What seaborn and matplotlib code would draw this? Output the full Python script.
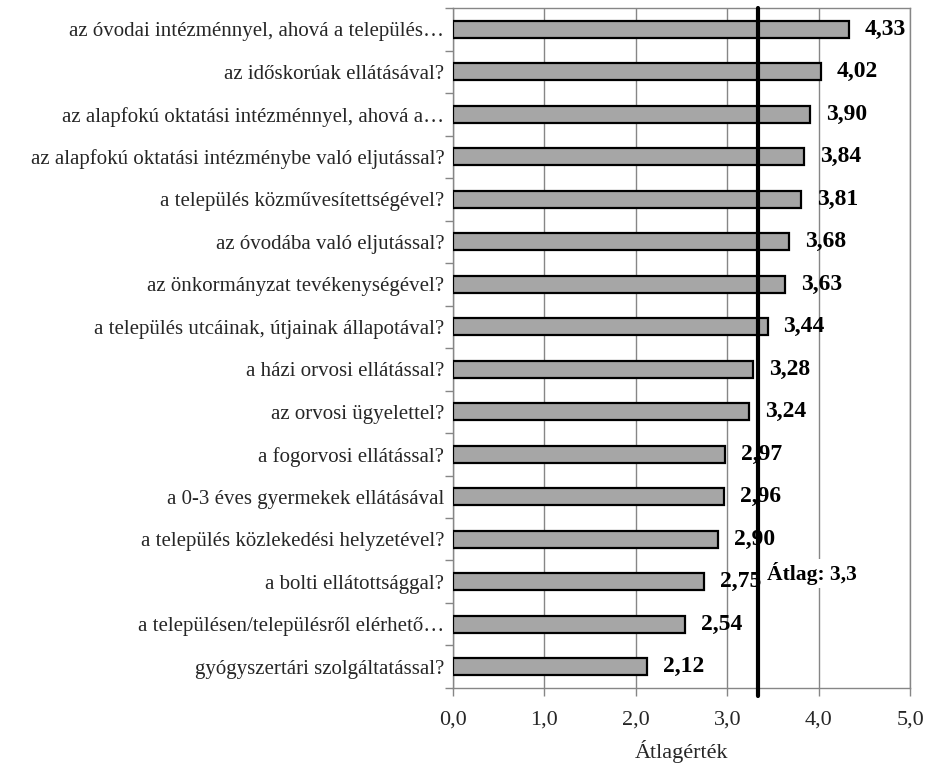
import matplotlib.pyplot as plt
import numpy as np
import pandas as pd
import seaborn as sns
from matplotlib.ticker import FixedLocator

categories = [
    "az óvodai intézménnyel, ahová a település…",
    "az időskorúak ellátásával?",
    "az alapfokú oktatási intézménnyel, ahová a…",
    "az alapfokú oktatási intézménybe való eljutással?",
    "a település közművesítettségével?",
    "az óvodába való eljutással?",
    "az önkormányzat tevékenységével?",
    "a település utcáinak, útjainak állapotával?",
    "a házi orvosi ellátással?",
    "az orvosi ügyelettel?",
    "a fogorvosi ellátással?",
    "a 0-3 éves gyermekek ellátásával",
    "a település közlekedési helyzetével?",
    "a bolti ellátottsággal?",
    "a településen/településről elérhető…",
    "gyógyszertári szolgáltatással?",
]
values = [4.33, 4.02, 3.90, 3.84, 3.81, 3.68, 3.63, 3.44,
          3.28, 3.24, 2.97, 2.96, 2.90, 2.75, 2.54, 2.12]
x_ticks = [0, 1, 2, 3, 4, 5]
x_label = "Átlagérték"
mean_label = "Átlag: 3,3"

GRID = "#868686"


def fmt(v, nd=2):
    return f"{v:.{nd}f}".replace(".", ",")


def main():
    sns.set_theme(style="white")
    plt.rcParams["font.family"] = ["Liberation Serif", "DejaVu Serif"]

    df = pd.DataFrame({"kat": categories, "ertek": values})
    mean_val = np.mean(values)

    fig = plt.figure(figsize=(9.26, 7.63), dpi=100)
    ax = fig.add_axes([0.489, 0.0983, 0.494, 0.8912])

    sns.barplot(data=df, y="kat", x="ertek", orient="h", color="#A6A6A6",
                saturation=1, edgecolor="black", linewidth=1.6, width=0.4,
                ax=ax, zorder=3)

    for i, v in enumerate(values):
        ax.annotate(fmt(v), (v, i), xytext=(11.5, 0), textcoords="offset points",
                    ha="left", va="center", fontsize=17, fontweight="bold",
                    color="black", zorder=4)

    ax.text(mean_val + 0.1, 12.8, mean_label, ha="left", va="center",
            fontsize=15.5, fontweight="bold", color="black", zorder=5,
            bbox=dict(boxstyle="square,pad=0.15", fc="white", ec="none"))
    ax.axvline(mean_val, ymin=-0.012, ymax=1, color="black", lw=3,
               zorder=6, clip_on=False)

    ax.set_xlim(0, 5)
    ax.set_ylim(len(categories) - 0.5, -0.5)
    ax.set_xticks(x_ticks)
    ax.set_xticklabels([fmt(t, 1) for t in x_ticks], fontsize=16)
    ax.set_xlabel(x_label, fontsize=16, labelpad=8)
    ax.set_ylabel("")
    ax.tick_params(axis="y", which="major", length=0, labelsize=15, pad=6)
    ax.yaxis.set_minor_locator(FixedLocator(np.arange(-0.5, len(categories), 1)))
    ax.tick_params(axis="y", which="minor", length=6, width=1, color=GRID,
                   left=True, direction="out")
    ax.tick_params(axis="x", which="major", length=6, width=1, color=GRID,
                   bottom=True, direction="out", pad=10)

    ax.xaxis.grid(True, color=GRID, lw=1, zorder=0)
    ax.yaxis.grid(False)
    ax.set_axisbelow(True)
    for sp in ax.spines.values():
        sp.set_color(GRID)
        sp.set_linewidth(1)

    fig.savefig("out.png", dpi=100)


if __name__ == "__main__":
    main()
